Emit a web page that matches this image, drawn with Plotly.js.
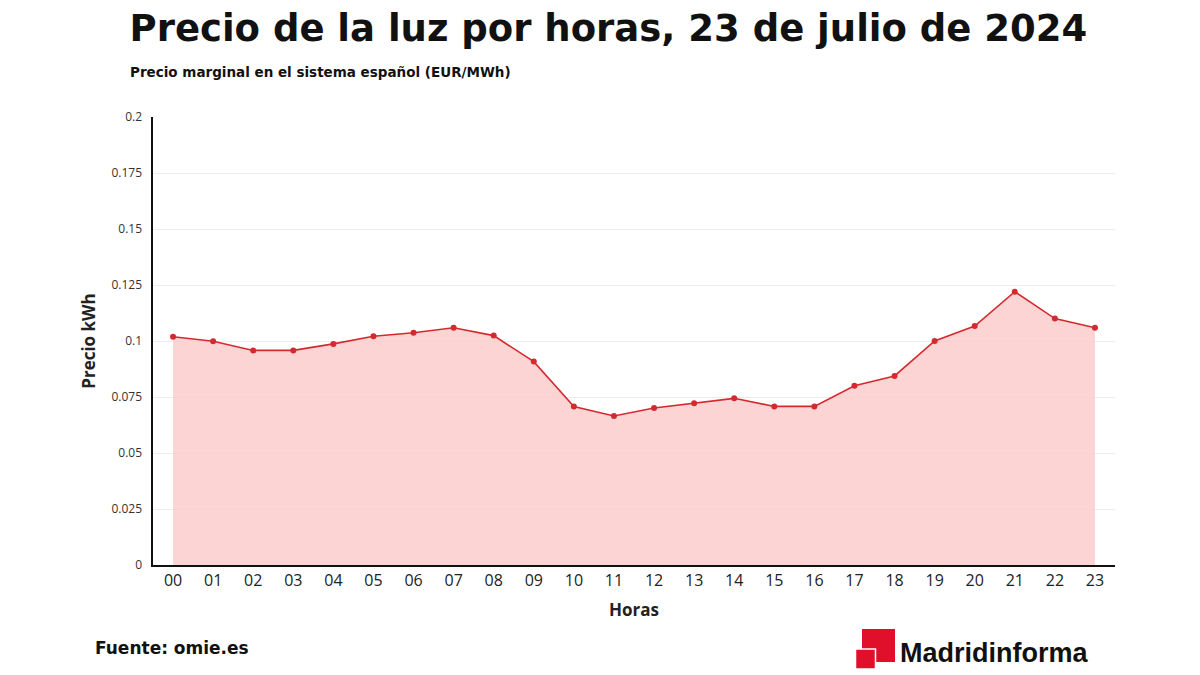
<!DOCTYPE html>
<html>
<head>
<meta charset="utf-8">
<script src="https://cdn.plot.ly/plotly-3.0.1.min.js"></script>
<style>
html,body{margin:0;padding:0;background:#fff;}
#chart{width:1200px;height:675px;}
</style>
</head>
<body>
<div id="chart"></div>
<script>
const hours = [0,1,2,3,4,5,6,7,8,9,10,11,12,13,14,15,16,17,18,19,20,21,22,23];
const hourLabels = ["00","01","02","03","04","05","06","07","08","09","10","11","12","13","14","15","16","17","18","19","20","21","22","23"];
const prices = [0.1019,0.0999,0.0958,0.0958,0.0987,0.1021,0.1037,0.1059,0.1024,0.0908,0.0708,0.0665,0.0701,0.0722,0.0744,0.0708,0.0708,0.0800,0.0844,0.1000,0.1067,0.1220,0.1100,0.1059];
const yTicks = [0,0.025,0.05,0.075,0.1,0.125,0.15,0.175,0.2];
const yTickLabels = ["0","0.025","0.05","0.075","0.1","0.125","0.15","0.175","0.2"];

const L = 153, R = 1115, T = 117, B = 565;
function px(x){return (x - L)/(R - L);}
function py(y){return (B - y)/(B - T);}

const trace = {
  x: hours, y: prices, type: 'scatter', mode: 'lines+markers',
  fill: 'tozeroy', fillcolor: 'rgba(251,205,205,0.85)',
  line: {color: '#d42a2f', width: 1.6},
  marker: {color: '#d42a2f', size: 6},
  hoverinfo: 'skip'
};

const layout = {
  width: 1200, height: 675,
  margin: {l: L, r: 1200 - R, t: T, b: 675 - B},
  paper_bgcolor: '#fff', plot_bgcolor: '#fff',
  showlegend: false,
  title: {
    text: '<b>Precio de la luz por horas, 23 de julio de 2024</b>',
    font: {family: '"DejaVu Sans", sans-serif', size: 37, color: '#111'},
    x: 0.507, xanchor: 'center', y: 0.958, yanchor: 'middle'
  },
  xaxis: {
    range: [-0.5, 23.5], tickvals: hours, ticktext: hourLabels,
    showgrid: false, zeroline: false,
    showline: true, linecolor: '#111', linewidth: 2,
    ticks: '', tickfont: {family: '"Open Sans", sans-serif', size: 16, color: '#222'},
    title: {text: '<b>Horas</b>', font: {family: '"Open Sans", sans-serif', size: 17, color: '#222'}, standoff: 14},
    fixedrange: true
  },
  yaxis: {
    range: [0, 0.2], tickvals: yTicks, ticktext: yTickLabels,
    showgrid: true, gridcolor: '#ececec', gridwidth: 1, zeroline: false,
    showline: true, linecolor: '#111', linewidth: 2.5,
    ticks: '', ticklen: 0, ticklabelstandoff: 6,
    tickfont: {family: '"Open Sans", sans-serif', size: 12, color: '#333'},
    title: {text: '<b>Precio kWh</b>', font: {family: '"Open Sans", sans-serif', size: 17, color: '#222'}, standoff: 12},
    fixedrange: true
  },
  annotations: [
    {text: '<b>Precio marginal en el sistema español (EUR/MWh)</b>', xref: 'paper', yref: 'paper',
     x: px(128), y: py(72), xanchor: 'left', yanchor: 'middle', showarrow: false,
     font: {family: '"DejaVu Sans", sans-serif', size: 13.5, color: '#111'}},
    {text: '<b>Fuente: omie.es</b>', xref: 'paper', yref: 'paper',
     x: px(93), y: py(648), xanchor: 'left', yanchor: 'middle', showarrow: false,
     font: {family: '"DejaVu Sans", sans-serif', size: 17, color: '#111'}},
    {text: '<b>Madridinforma</b>', xref: 'paper', yref: 'paper',
     x: px(898), y: py(653), xanchor: 'left', yanchor: 'middle', showarrow: false,
     font: {family: '"Liberation Sans", Arial, sans-serif', size: 27, color: '#111'}}
  ],
  shapes: [
    {type: 'rect', xref: 'paper', yref: 'paper', x0: px(862), x1: px(895), y0: py(662), y1: py(629),
     fillcolor: '#e0102a', line: {width: 0}},
    {type: 'rect', xref: 'paper', yref: 'paper', x0: px(855.5), x1: px(875.5), y0: py(669), y1: py(649),
     fillcolor: '#e0102a', line: {width: 1.5, color: '#ffffff'}}
  ]
};

Plotly.newPlot('chart', [trace], layout, {displayModeBar: false, staticPlot: true});
</script>
</body>
</html>
